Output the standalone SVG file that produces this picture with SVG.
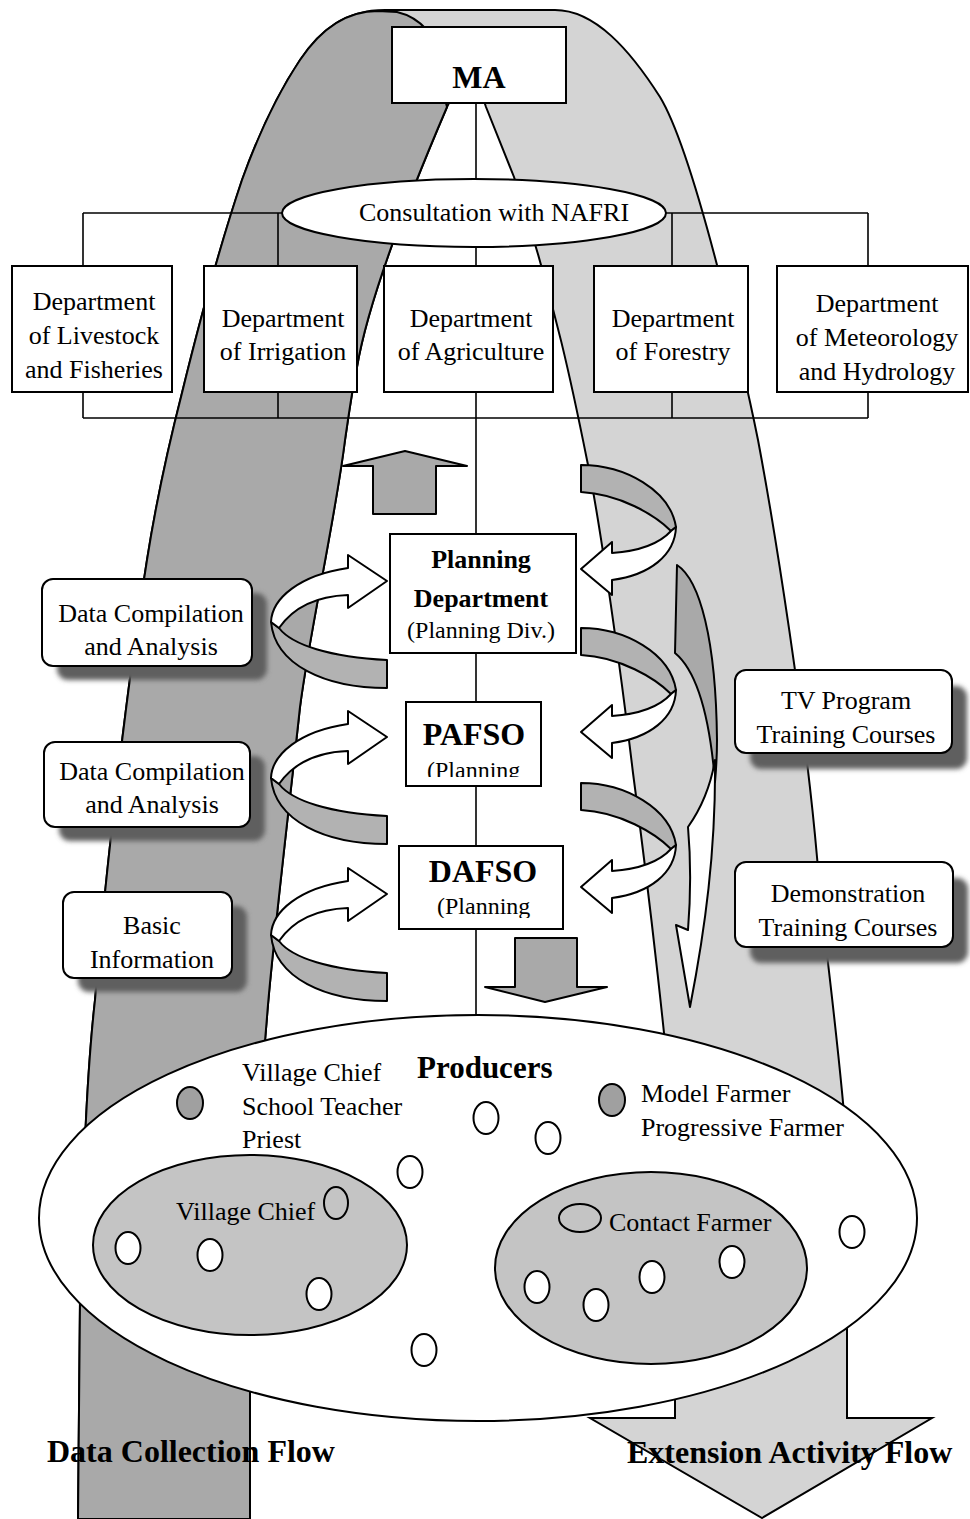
<svg xmlns="http://www.w3.org/2000/svg" width="970" height="1519" viewBox="0 0 970 1519">
<defs>
<style>
.t{font-family:"Liberation Serif","Times New Roman",serif;font-size:26px;fill:#000}
.b{font-weight:bold}
.m{text-anchor:middle}
.box{fill:#fff;stroke:#000;stroke-width:2}
.ln{stroke:#000;stroke-width:1.6;fill:none}
.sh{fill:#5e5e5e;filter:url(#blur)}
.g1{fill:#b2b2b2;stroke:#000;stroke-width:2;stroke-linejoin:round}
.w{fill:#fff;stroke:#000;stroke-width:2;stroke-linejoin:round}
.dot{fill:#fff;stroke:#000;stroke-width:2}
.gdot{fill:#a0a0a0;stroke:#000;stroke-width:2}
.odot{fill:none;stroke:#000;stroke-width:2}
</style>
<filter id="blur" x="-10%" y="-20%" width="120%" height="140%"><feGaussianBlur stdDeviation="2.5"/></filter>
<clipPath id="cp1"><rect x="400" y="700" width="150" height="77"/></clipPath>
<clipPath id="cp2"><rect x="395" y="840" width="175" height="78"/></clipPath>
<g id="la">
<path class="g1" d="M387,660 L387,688 C325,688 275,665 271,622 L279,628 C292,645 330,657 387,660 Z"/>
<path class="w" d="M271,622 C272,598 300,575 348,568 L348,555 L387,581 L348,608 L348,595 C320,596 295,605 279,628 Z"/>
</g>
<g id="ra">
<path class="g1" d="M581,465 C625,465 670,490 676,527 L671,531 C655,515 620,494 581,492 Z"/>
<path class="w" d="M676,527 C675,555 650,575 612,580 L612,595 L581,569 L612,542 L612,553 C640,551 660,543 671,531 Z"/>
</g>
</defs>

<g id="flow-bands">
<path id="extension-band" d="M78,1519 L80,1300 C83,1180 86,1080 95,1000 C105,880 125,700 147,560 C158,490 170,440 182,393 C195,340 215,260 242,180 C260,130 280,90 300,60 C320,30 345,10 385,10 L555,10 C595,10 630,50 660,97 C680,130 700,200 717,265 C735,335 748,390 758,440 C775,530 805,720 817,857 C825,950 840,1050 847,1150 L847,1418 L932,1418 L762,1518 L590,1418 L675,1418 L675,1150 C668,1060 650,900 633,773 C622,680 600,520 587,460 C575,400 555,300 514,177 L486,107 L470,60 L447,107 C420,170 370,290 357,367 C352,390 348,420 345,440 C335,520 310,630 300,707 C290,800 272,950 267,1017 C260,1100 252,1200 250,1300 L250,1519 Z" fill="#d4d4d4" stroke="#000" stroke-width="2"/>
<path id="data-band" d="M78,1519 L80,1300 C83,1180 86,1080 95,1000 C105,880 125,700 147,560 C158,490 170,440 182,393 C195,340 215,260 242,180 C260,130 280,90 300,60 C320,30 345,11 378,11 L397,12 C410,15 420,22 427,30 L447,107 C420,170 370,290 357,367 C352,390 348,420 345,440 C335,520 310,630 300,707 C290,800 272,950 267,1017 C260,1100 252,1200 250,1300 L250,1519 Z" fill="#a9a9a9" stroke="#000" stroke-width="2"/>
</g>

<g id="connectors">
<line class="ln" x1="83" y1="213" x2="868" y2="213"/>
<line class="ln" x1="83" y1="213" x2="83" y2="266"/>
<line class="ln" x1="278" y1="213" x2="278" y2="266"/>
<line class="ln" x1="672" y1="213" x2="672" y2="266"/>
<line class="ln" x1="868" y1="213" x2="868" y2="266"/>
<line class="ln" x1="83" y1="418" x2="868" y2="418"/>
<line class="ln" x1="83" y1="392" x2="83" y2="418"/>
<line class="ln" x1="278" y1="392" x2="278" y2="418"/>
<line class="ln" x1="672" y1="392" x2="672" y2="418"/>
<line class="ln" x1="868" y1="392" x2="868" y2="418"/>
<line class="ln" x1="476" y1="103" x2="476" y2="1016"/>
</g>

<g id="ma"><rect class="box" x="392" y="27" width="174" height="76"/><text class="t b m" x="479" y="88" style="font-size:32px">MA</text></g>
<g id="nafri"><ellipse class="box" cx="474" cy="213" rx="192" ry="34"/><text class="t m" x="494" y="221">Consultation with NAFRI</text></g>

<g id="dept-livestock"><rect class="box" x="12" y="266" width="160" height="126"/><text class="t m"><tspan x="94" y="310">Department</tspan><tspan x="94" y="344">of Livestock</tspan><tspan x="94" y="378">and Fisheries</tspan></text></g>
<g id="dept-irrigation"><rect class="box" x="204" y="266" width="153" height="126"/><text class="t m"><tspan x="283" y="327">Department</tspan><tspan x="283" y="360">of Irrigation</tspan></text></g>
<g id="dept-agriculture"><rect class="box" x="384" y="266" width="169" height="126"/><text class="t m"><tspan x="471" y="327">Department</tspan><tspan x="471" y="360">of Agriculture</tspan></text></g>
<g id="dept-forestry"><rect class="box" x="594" y="266" width="154" height="126"/><text class="t m"><tspan x="673" y="327">Department</tspan><tspan x="673" y="360">of Forestry</tspan></text></g>
<g id="dept-meteorology"><rect class="box" x="777" y="266" width="191" height="126"/><text class="t m"><tspan x="877" y="312">Department</tspan><tspan x="877" y="346">of Meteorology</tspan><tspan x="877" y="380">and Hydrology</tspan></text></g>

<g id="block-arrows">
<path class="g1" fill="#a9a9a9" style="fill:#a9a9a9" d="M373,514 L373,466 L343,466 L405,451 L467,466 L436,466 L436,514 Z"/>
<path class="g1" style="fill:#a9a9a9" d="M515,938 L577,938 L577,987 L607,987 L545,1002 L485,987 L515,987 Z"/>
</g>

<g id="planning-dept"><rect class="box" x="390" y="534" width="186" height="119"/><text class="t b m" x="481" y="568">Planning</text><text class="t b m" x="481" y="607">Department</text><text class="t m" x="481" y="638" style="font-size:24px">(Planning Div.)</text></g>
<g id="pafso"><rect class="box" x="406" y="702" width="135" height="84"/><text class="t b m" x="474" y="745" style="font-size:32px">PAFSO</text><text class="t" x="427" y="778" style="font-size:24px" clip-path="url(#cp1)">(Planning</text></g>
<g id="dafso"><rect class="box" x="399" y="846" width="164" height="83"/><text class="t b m" x="483" y="882" style="font-size:32px">DAFSO</text><text class="t" x="437" y="914" style="font-size:24px" clip-path="url(#cp2)">(Planning</text></g>

<g id="curved-arrows">
<use href="#la"/>
<use href="#la" transform="translate(0,156)"/>
<use href="#la" transform="translate(0,313)"/>
<use href="#ra"/>
<use href="#ra" transform="translate(0,163)"/>
<use href="#ra" transform="translate(0,318)"/>
<path class="g1" style="fill:#a9a9a9" d="M677,565 C700,580 716,640 717,740 C717,760 716,770 715,782 C710,720 698,672 675,653 Z"/>
<path class="w" d="M715,760 C716,850 705,930 690,1007 L676,925 L688,930 C692,880 690,850 688,827 C700,810 710,790 715,760 Z"/>
</g>

<g id="box-data1"><rect class="sh" x="57" y="593" width="210" height="87" rx="11"/><rect class="box" x="42" y="579" width="210" height="87" rx="11"/><text class="t m"><tspan x="151" y="622">Data Compilation</tspan><tspan x="151" y="655">and Analysis</tspan></text></g>
<g id="box-data2"><rect class="sh" x="59" y="756" width="206" height="85" rx="11"/><rect class="box" x="44" y="742" width="206" height="85" rx="11"/><text class="t m"><tspan x="152" y="780">Data Compilation</tspan><tspan x="152" y="813">and Analysis</tspan></text></g>
<g id="box-basic"><rect class="sh" x="78" y="906" width="169" height="86" rx="11"/><rect class="box" x="63" y="892" width="169" height="86" rx="11"/><text class="t m"><tspan x="152" y="934">Basic</tspan><tspan x="152" y="968">Information</tspan></text></g>
<g id="box-tv"><rect class="sh" x="750" y="686" width="217" height="83" rx="11"/><rect class="box" x="735" y="670" width="217" height="83" rx="11"/><text class="t m"><tspan x="846" y="709">TV Program</tspan><tspan x="846" y="743">Training Courses</tspan></text></g>
<g id="box-demo"><rect class="sh" x="750" y="878" width="218" height="85" rx="11"/><rect class="box" x="735" y="862" width="218" height="85" rx="11"/><text class="t m"><tspan x="848" y="902">Demonstration</tspan><tspan x="848" y="936">Training Courses</tspan></text></g>

<g id="producers">
<ellipse class="box" cx="478" cy="1218" rx="439" ry="203"/>
<ellipse cx="250" cy="1245" rx="157" ry="90" fill="#c4c4c4" stroke="#000" stroke-width="2"/>
<ellipse cx="651" cy="1268" rx="156" ry="96" fill="#c4c4c4" stroke="#000" stroke-width="2"/>
<text class="t b" x="417" y="1078" style="font-size:31px">Producers</text>
<text class="t"><tspan x="242" y="1081">Village Chief</tspan><tspan x="242" y="1115">School Teacher</tspan><tspan x="242" y="1148">Priest</tspan></text>
<text class="t"><tspan x="641" y="1102">Model Farmer</tspan><tspan x="641" y="1136">Progressive Farmer</tspan></text>
<text class="t" x="176" y="1220">Village Chief</text>
<text class="t" x="609" y="1231">Contact Farmer</text>
<ellipse class="gdot" cx="190" cy="1103" rx="13" ry="16"/>
<ellipse class="gdot" cx="612" cy="1100" rx="13" ry="16"/>
<ellipse class="odot" cx="336" cy="1203" rx="12" ry="16"/>
<ellipse class="odot" cx="580" cy="1218" rx="21" ry="14"/>
<ellipse class="dot" cx="410" cy="1172" rx="12.5" ry="16"/>
<ellipse class="dot" cx="424" cy="1350" rx="12.5" ry="16"/>
<ellipse class="dot" cx="486" cy="1118" rx="12.5" ry="16"/>
<ellipse class="dot" cx="548" cy="1138" rx="12.5" ry="16"/>
<ellipse class="dot" cx="128" cy="1248" rx="12.5" ry="16"/>
<ellipse class="dot" cx="210" cy="1255" rx="12.5" ry="16"/>
<ellipse class="dot" cx="319" cy="1294" rx="12.5" ry="16"/>
<ellipse class="dot" cx="537" cy="1287" rx="12.5" ry="16"/>
<ellipse class="dot" cx="596" cy="1305" rx="12.5" ry="16"/>
<ellipse class="dot" cx="652" cy="1277" rx="12.5" ry="16"/>
<ellipse class="dot" cx="732" cy="1262" rx="12.5" ry="16"/>
<ellipse class="dot" cx="852" cy="1232" rx="12.5" ry="16"/>
</g>

<g id="flow-labels">
<text class="t b" x="47" y="1462" style="font-size:32px">Data Collection Flow</text>
<text class="t b" x="627" y="1463" style="font-size:32px">Extension Activity Flow</text>
</g>
</svg>
